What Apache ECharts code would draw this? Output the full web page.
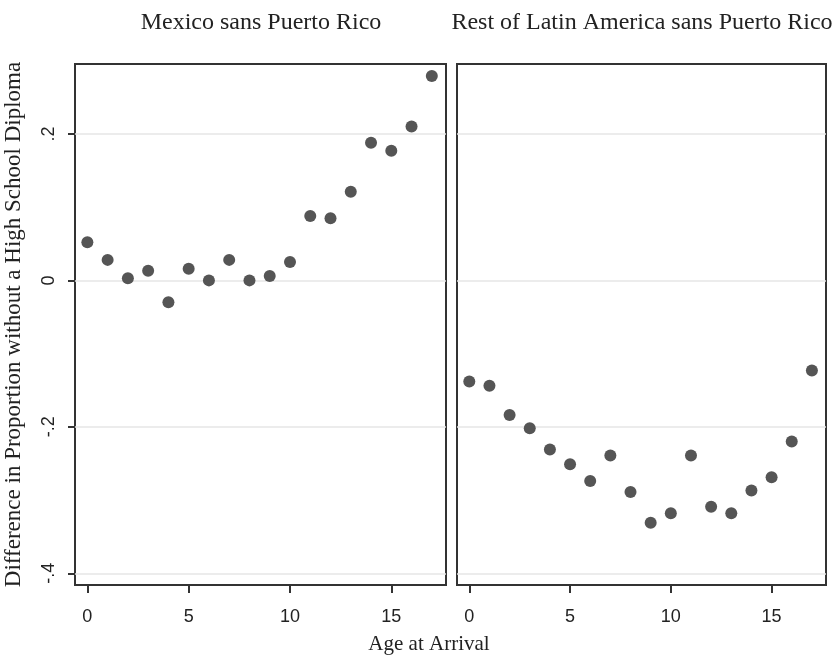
<!DOCTYPE html>
<html>
<head>
<meta charset="utf-8">
<script src="https://cdn.jsdelivr.net/npm/echarts@6/dist/echarts.min.js"></script>
<style>html,body{margin:0;padding:0;background:#fff}#c{width:834px;height:655px}</style>
</head>
<body>
<div id="c"></div>
<script>
const panelTitles = ["Mexico sans Puerto Rico", "Rest of Latin America sans Puerto Rico"];
const ages = [0,1,2,3,4,5,6,7,8,9,10,11,12,13,14,15,16,17];
const mexico = [0.052,0.028,0.003,0.013,-0.030,0.016,0.000,0.028,0.000,0.006,0.025,0.088,0.085,0.121,0.188,0.177,0.210,0.279];
const restLatAm = [-0.138,-0.144,-0.184,-0.202,-0.231,-0.251,-0.274,-0.239,-0.289,-0.331,-0.318,-0.239,-0.309,-0.318,-0.287,-0.269,-0.220,-0.123];
const yTicks = [-0.4,-0.2,0,0.2];
const yTickLabels = {"-0.4":"-.4","-0.2":"-.2","0":"0","0.2":".2"};
const xTicks = [0,5,10,15];
const yTitle = "Difference in Proportion without a High School Diploma";
const xTitle = "Age at Arrival";

const serif = "'Liberation Serif','Times New Roman',serif";
const sans = "'Liberation Sans',Arial,sans-serif";
const chart = echarts.init(document.getElementById('c'), null, {renderer:'canvas'});

function xAxisDef(gi){
  return {
    gridIndex: gi, type:'value', min:-0.61, max:17.7, position:'bottom',
    axisLine:{show:false, onZero:false},
    axisTick:{show:true, inside:false, length:8, customValues:xTicks, lineStyle:{color:'#333', width:2}},
    axisLabel:{show:true, customValues:xTicks, margin:23, fontFamily:sans, fontSize:18, color:'#222'},
    splitLine:{show:false}
  };
}
function yAxisDef(gi, showLabels){
  const a = {
    gridIndex: gi, type:'value', min:-0.416, max:0.2955, position:'left',
    axisLine:{show:false, onZero:false},
    axisTick:{show:showLabels, length:7, customValues:yTicks, lineStyle:{color:'#333', width:2}},
    axisLabel:{show:showLabels, customValues:yTicks, rotate:90, margin:17, fontFamily:sans, fontSize:18, color:'#222',
      formatter:function(v){ const k = String(Math.round(v*10)/10); return yTickLabels[k] !== undefined ? yTickLabels[k] : k; }},
    splitLine:{show:true, lineStyle:{color:'#e6e6e6', width:1.5}}
  };
  if (showLabels){
    a.name = yTitle;
    a.nameLocation = 'middle';
    a.nameGap = 50;
    a.nameTextStyle = {fontFamily:serif, fontSize:23, color:'#222'};
  }
  return a;
}

chart.setOption({
  animation:false,
  backgroundColor:'#fff',
  title:[
    {text:panelTitles[0], left:256, top:6, textAlign:'center', textStyle:{fontFamily:serif, fontSize:24, fontWeight:'normal', color:'#222'}},
    {text:panelTitles[1], left:637, top:6, textAlign:'center', textStyle:{fontFamily:serif, fontSize:24, fontWeight:'normal', color:'#222'}},
    {text:xTitle, left:424, top:629, textAlign:'center', textStyle:{fontFamily:serif, fontSize:21, fontWeight:'normal', color:'#222'}}
  ],
  grid:[
    {left:75, top:64, width:371, height:521, show:true, borderColor:'#333', borderWidth:2, backgroundColor:'#fff'},
    {left:457, top:64, width:369, height:521, show:true, borderColor:'#333', borderWidth:2, backgroundColor:'#fff'}
  ],
  xAxis:[xAxisDef(0), xAxisDef(1)],
  yAxis:[yAxisDef(0,true), yAxisDef(1,false)],
  series:[
    {type:'scatter', xAxisIndex:0, yAxisIndex:0, symbol:'circle', symbolSize:12,
     itemStyle:{color:'#555555', opacity:1}, data: ages.map((a,i)=>[a, mexico[i]])},
    {type:'scatter', xAxisIndex:1, yAxisIndex:1, symbol:'circle', symbolSize:12,
     itemStyle:{color:'#555555', opacity:1}, data: ages.map((a,i)=>[a, restLatAm[i]])}
  ]
});
</script>
</body>
</html>
